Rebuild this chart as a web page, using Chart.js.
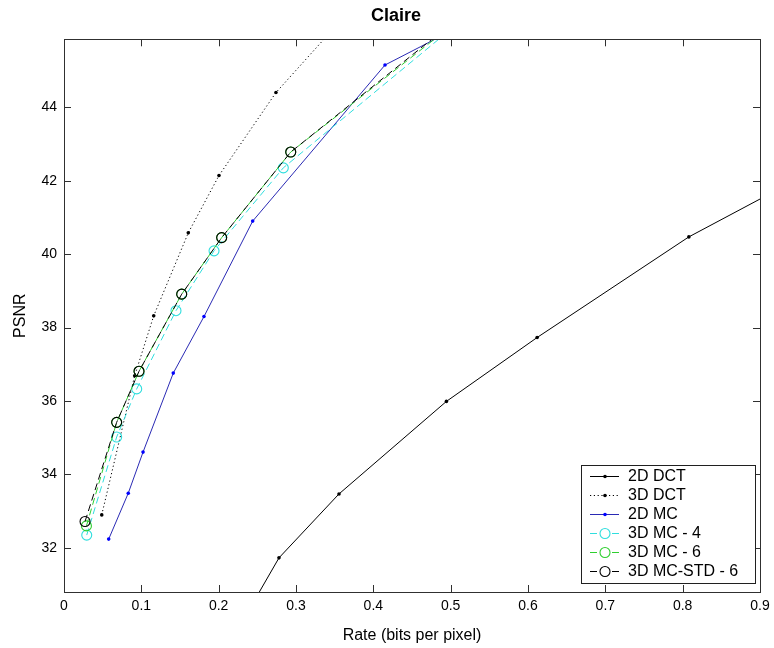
<!DOCTYPE html>
<html>
<head>
<meta charset="utf-8">
<script src="https://cdn.jsdelivr.net/npm/chart.js@4.4.1/dist/chart.umd.min.js"></script>
<style>
  html, body { margin: 0; padding: 0; background: #fff; }
  #wrap { width: 774px; height: 648px; position: relative; }
</style>
</head>
<body>
<div id="wrap"><canvas id="c" width="774" height="648"></canvas></div>
<script>
// ---- Data ----
const chartTitle = 'Claire';
const xTitle = 'Rate (bits per pixel)';
const yTitle = 'PSNR';
const xTicks = [0, 0.1, 0.2, 0.3, 0.4, 0.5, 0.6, 0.7, 0.8, 0.9];
const xTickLabels = ['0', '0.1', '0.2', '0.3', '0.4', '0.5', '0.6', '0.7', '0.8', '0.9'];
const yTicks = [32, 34, 36, 38, 40, 42, 44];
const yTickLabels = ['32', '34', '36', '38', '40', '42', '44'];
const seriesNames = ['2D DCT', '3D DCT', '2D MC', '3D MC - 4', '3D MC - 6', '3D MC-STD - 6'];

const rate2dDct = [0.243, 0.278, 0.3556, 0.4945, 0.6118, 0.808, 0.95];
const psnr2dDct = [30.45, 31.73, 33.47, 35.99, 37.73, 40.47, 42.06];

const rate3dDct = [0.0488, 0.0914, 0.116, 0.1607, 0.2004, 0.2741, 0.36];
const psnr3dDct = [32.90, 36.69, 38.32, 40.58, 42.14, 44.40, 46.41];

const rate2dMc = [0.0578, 0.0831, 0.1022, 0.1413, 0.181, 0.244, 0.4151, 0.486];
const psnr2dMc = [32.24, 33.49, 34.61, 36.76, 38.30, 40.90, 45.15, 45.92];

const rate3dMc4 = [0.0294, 0.0681, 0.094, 0.1448, 0.194, 0.2836, 0.5];
const psnr3dMc4 = [32.35, 35.02, 36.33, 38.46, 40.09, 42.35, 46.12];

const rate3dMc6 = [0.0290, 0.0681, 0.097, 0.1522, 0.2039, 0.2932, 0.5];
const psnr3dMc6 = [32.60, 35.42, 36.81, 38.91, 40.45, 42.78, 46.20];

const rateStd6 = [0.0272, 0.0681, 0.097, 0.1522, 0.2039, 0.2932, 0.5];
const psnrStd6 = [32.72, 35.42, 36.81, 38.91, 40.45, 42.78, 46.26];

const xRange = [0, 0.9];
const yRange = [30.8, 45.85];

// ---- build datasets ----
function pts(xs, ys) { return xs.map((x, i) => ({ x: x, y: ys[i] })); }

const styles = [
  { color: '#000000', dash: [], point: 'dot' },
  { color: '#000000', dash: [1.2, 2.6], point: 'dot' },
  { color: '#2a2ab4', dash: [], point: 'dot', pointColor: '#0000ff' },
  { color: '#30dede', dash: [7, 4], point: 'ring' },
  { color: '#2fcf2f', dash: [7, 4], point: 'ring' },
  { color: '#000000', dash: [7, 4], point: 'ring' }
];
const seriesData = [
  pts(rate2dDct, psnr2dDct),
  pts(rate3dDct, psnr3dDct),
  pts(rate2dMc, psnr2dMc),
  pts(rate3dMc4, psnr3dMc4),
  pts(rate3dMc6, psnr3dMc6),
  pts(rateStd6, psnrStd6)
];

const datasets = seriesData.map((d, i) => {
  const s = styles[i];
  const ring = s.point === 'ring';
  return {
    label: seriesNames[i],
    data: d,
    borderColor: s.color,
    borderWidth: 1,
    borderDash: s.dash,
    backgroundColor: ring ? 'rgba(0,0,0,0)' : (s.pointColor || s.color),
    pointBorderColor: s.pointColor || s.color,
    pointBackgroundColor: ring ? 'rgba(0,0,0,0)' : (s.pointColor || s.color),
    pointStyle: 'circle',
    pointRadius: ring ? 5 : 1.8,
    pointBorderWidth: ring ? 1.1 : 0,
    pointHoverRadius: ring ? 5 : 1.8,
    tension: 0,
    fill: false,
    showLine: true,
    order: 5 - i,
    _legendStyle: s
  };
});

const FONT = "'Liberation Sans', Arial, Helvetica, sans-serif";

// ---- plugin: MATLAB-style box, inward ticks, and boxed legend ----
const matlabAxes = {
  id: 'matlabAxes',
  afterDatasetsDraw(chart) {
    const ctx = chart.ctx;
    const a = chart.chartArea;
    const xs = chart.scales.x, ys = chart.scales.y;
    const tick = 7;
    ctx.save();
    ctx.strokeStyle = '#303030';
    ctx.lineWidth = 1;
    ctx.setLineDash([]);
    ctx.beginPath();
    xTicks.forEach(v => {
      const p = Math.round(xs.getPixelForValue(v)) + 0.5;
      ctx.moveTo(p, a.bottom); ctx.lineTo(p, a.bottom - tick);
      ctx.moveTo(p, a.top); ctx.lineTo(p, a.top + tick);
    });
    yTicks.forEach(v => {
      const p = Math.round(ys.getPixelForValue(v)) + 0.5;
      ctx.moveTo(a.left, p); ctx.lineTo(a.left + tick, p);
      ctx.moveTo(a.right, p); ctx.lineTo(a.right - tick, p);
    });
    ctx.stroke();
    ctx.strokeRect(Math.round(a.left) + 0.5, Math.round(a.top) + 0.5,
                   Math.round(a.right - a.left), Math.round(a.bottom - a.top));

    // legend
    const L = { left: 581, top: 465, right: 755, bottom: 583, row0: 476, rowStep: 19,
                lx0: 590, lx1: 619, mx: 605, tx: 628 };
    ctx.fillStyle = '#ffffff';
    ctx.fillRect(L.left, L.top, L.right - L.left, L.bottom - L.top);
    ctx.strokeStyle = '#202020';
    ctx.strokeRect(L.left + 0.5, L.top + 0.5, L.right - L.left, L.bottom - L.top);
    chart.data.datasets.forEach((ds, i) => {
      const s = ds._legendStyle;
      const y = L.row0 + i * L.rowStep + 0.5;
      ctx.strokeStyle = s.color;
      ctx.lineWidth = 1;
      ctx.setLineDash(s.dash);
      ctx.beginPath();
      ctx.moveTo(L.lx0, y); ctx.lineTo(L.lx1, y);
      ctx.stroke();
      ctx.setLineDash([]);
      if (s.point === 'ring') {
        ctx.fillStyle = '#ffffff';
        ctx.beginPath(); ctx.arc(L.mx, y, 5, 0, Math.PI * 2); ctx.fill();
        ctx.strokeStyle = s.color; ctx.lineWidth = 1.1;
        ctx.beginPath(); ctx.arc(L.mx, y, 5, 0, Math.PI * 2); ctx.stroke();
      } else {
        ctx.fillStyle = s.pointColor || s.color;
        ctx.beginPath(); ctx.arc(L.mx, y, 1.8, 0, Math.PI * 2); ctx.fill();
      }
      ctx.fillStyle = '#000000';
      ctx.font = '16px ' + FONT;
      ctx.textAlign = 'left';
      ctx.textBaseline = 'middle';
      ctx.fillText(ds.label, L.tx, y);
    });
    ctx.restore();
  }
};

Chart.defaults.font.family = FONT;
Chart.defaults.color = '#000000';

new Chart(document.getElementById('c'), {
  type: 'scatter',
  data: { datasets: datasets },
  plugins: [matlabAxes],
  options: {
    responsive: false,
    animation: false,
    devicePixelRatio: 1,
    layout: { padding: { left: 18, right: 0, top: 0, bottom: 0 } },
    plugins: {
      legend: { display: false },
      tooltip: { enabled: false },
      title: {
        display: true,
        text: chartTitle,
        color: '#000000',
        font: { size: 18, weight: 'bold', family: FONT },
        padding: { top: 5, bottom: 12.7 }
      }
    },
    scales: {
      x: {
        type: 'linear',
        position: 'bottom',
        min: xRange[0], max: xRange[1],
        grid: { display: false },
        border: { display: false },
        afterBuildTicks: s => { s.ticks = xTicks.map(v => ({ value: v })); },
        afterFit: s => { s.height = 56; },
        ticks: {
          autoSkip: false, maxRotation: 0, padding: -2,
          font: { size: 14 },
          callback: (v) => { const i = xTicks.findIndex(t => Math.abs(t - v) < 1e-9); return i >= 0 ? xTickLabels[i] : ''; }
        },
        title: { display: true, text: xTitle, font: { size: 16 }, padding: { top: 0, bottom: 3 } }
      },
      y: {
        type: 'linear',
        position: 'left',
        min: yRange[0], max: yRange[1],
        grid: { display: false },
        border: { display: false },
        afterBuildTicks: s => { s.ticks = yTicks.map(v => ({ value: v })); },
        afterFit: s => { s.width = 46; },
        ticks: {
          autoSkip: false, padding: -1,
          font: { size: 14 },
          callback: (v) => { const i = yTicks.findIndex(t => Math.abs(t - v) < 1e-9); return i >= 0 ? yTickLabels[i] : ''; }
        },
        title: { display: true, text: yTitle, font: { size: 16 }, padding: { top: -7, bottom: 0 } }
      },
      yRight: {
        type: 'linear',
        position: 'right',
        min: yRange[0], max: yRange[1],
        grid: { display: false },
        border: { display: false },
        ticks: { display: false },
        afterFit: s => { s.width = 14; }
      }
    }
  }
});
</script>
</body>
</html>
